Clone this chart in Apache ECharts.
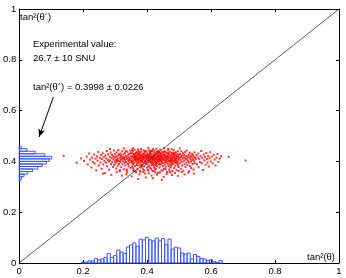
<!DOCTYPE html>
<html><head><meta charset="utf-8">
<script src="https://cdn.jsdelivr.net/npm/echarts@6/dist/echarts.min.js"></script>
<style>html,body{margin:0;padding:0;background:#fff}#c{width:346px;height:278px}</style>
</head><body><div id="c"></div><script>
// ---- data ----
const xTickValues = [0, 0.2, 0.4, 0.6, 0.8, 1];
const yTickValues = [0, 0.2, 0.4, 0.6, 0.8, 1];
const binWidth = 0.01;
// projection of tan^2(theta) (bottom histogram)
const histXCenters = [0.20,0.21,0.22,0.23,0.24,0.25,0.26,0.27,0.28,0.29,0.30,0.31,0.32,0.33,0.34,0.35,0.36,0.37,0.38,0.39,0.40,0.41,0.42,0.43,0.44,0.45,0.46,0.47,0.48,0.49,0.50,0.51,0.52,0.53,0.54,0.55,0.56,0.57,0.58,0.59,0.60,0.61,0.62,0.63];
const histXHeights = [0.004,0.003,0.008,0.008,0.018,0.012,0.016,0.022,0.038,0.022,0.029,0.051,0.043,0.038,0.063,0.071,0.079,0.066,0.094,0.091,0.101,0.091,0.087,0.098,0.087,0.096,0.072,0.094,0.055,0.062,0.059,0.039,0.035,0.039,0.016,0.033,0.026,0.018,0.016,0.009,0.013,0.005,0.002,0.010];
// projection of tan^2(theta') (left histogram)
const histYCenters = [0.325,0.335,0.345,0.355,0.365,0.375,0.385,0.395,0.405,0.415,0.425,0.435,0.445,0.455];
const histYLengths = [0.003,0.007,0.015,0.027,0.042,0.058,0.072,0.085,0.094,0.102,0.080,0.050,0.024,0.006];
// scatter cloud (thousandths): [tan^2(theta), tan^2(theta')]
const cloudPoints = [
[203,402],[211,419],[214,388],[219,431],[222,407],[226,376],[228,415],[231,398],[234,427],[236,392],[239,411],[241,365],[243,420],[245,403],[247,437],[249,384],[252,414],[254,396],[256,425],[258,371],[259,409],[261,432],[263,388],[264,417],[266,401],[268,354],[269,423],[271,395],[272,412],[274,441],[275,381],[277,406],[278,428],[280,399],[281,367],[283,418],[284,404],[286,435],[287,389],[289,413],[290,426],[291,397],[293,378],[294,420],[295,408],[296,443],[297,386],[298,415],[299,401],[300,429],
[301,393],[302,418],[303,372],[304,407],[305,436],[306,399],[307,421],[308,383],[309,411],[310,445],[311,402],[312,390],[313,426],[314,361],[315,414],[316,397],[317,431],[318,405],[319,377],[320,419],[321,409],[322,440],[323,388],[324,416],[325,400],[326,427],[327,369],[328,412],[329,395],[330,433],[331,406],[332,384],[333,422],[334,398],[335,349],[336,417],[337,410],[338,438],[339,391],[340,424],[341,403],[342,380],[343,415],[344,429],[345,396],[346,408],[347,442],[348,374],[349,420],[350,401],[318,423],[326,411],[333,441],[341,389],[307,404],[312,428],[329,415],[336,363],[344,406],[348,432],
[351,412],[352,396],[352,433],[353,379],[354,418],[355,405],[355,441],[356,388],[357,424],[357,401],[358,366],[359,415],[359,430],[360,393],[361,409],[361,446],[362,382],[363,420],[363,403],[364,428],[365,357],[365,411],[366,398],[367,437],[367,416],[368,386],[369,423],[369,406],[370,371],[371,431],[371,413],[372,395],[373,419],[373,442],[374,400],[375,384],[375,426],[376,409],[377,363],[377,417],[378,434],[379,392],[379,404],[380,421],[381,376],[381,411],[382,439],[383,398],[383,425],[384,387],[385,414],[385,403],[386,430],[387,369],[387,418],[388,408],[389,444],[389,394],[390,422],[391,381],[391,412],[392,436],[393,399],[393,417],[394,352],[395,427],[395,405],[396,389],[397,420],[397,440],[398,410],[399,375],[399,425],[354,392],[358,427],[362,410],[366,421],[370,404],[374,437],[378,413],[382,385],[386,407],[390,429],[394,400],[398,418],[353,446],[357,373],[361,419],[365,433],[369,391],[373,408],[377,426],[381,401],[385,380],[389,416],[393,439],[397,396],[360,414],[372,428],[384,419],
[400,413],[401,390],[401,432],[402,405],[403,421],[403,367],[404,410],[405,444],[405,397],[406,418],[407,383],[407,426],[408,402],[409,415],[409,437],[410,374],[411,408],[411,423],[412,394],[413,431],[413,411],[414,386],[415,419],[415,400],[416,441],[417,362],[417,416],[418,405],[419,428],[419,391],[420,412],[421,435],[421,379],[422,420],[423,398],[423,443],[424,409],[425,385],[425,425],[426,414],[427,370],[427,403],[428,432],[429,418],[429,392],[430,409],[431,439],[431,381],[432,421],[433,400],[433,416],[434,355],[435,427],[435,406],[436,389],[437,419],[437,434],[438,397],[439,412],[439,376],[440,424],[441,404],[441,446],[442,388],[443,415],[443,429],[444,399],[445,365],[445,420],[446,410],[447,437],[447,393],[448,417],[449,382],[449,426],[402,427],[406,401],[410,438],[414,417],[418,387],[422,406],[426,430],[430,395],[434,418],[438,410],[442,433],[446,401],[404,379],[408,424],[412,442],[416,398],[420,421],[424,373],[428,410],[432,437],[436,403],[440,389],[444,422],[448,408],[403,415],[411,399],[419,419],[427,388],[435,441],[443,407],[409,430],[417,409],[425,397],[433,426],[441,415],
[450,411],[451,394],[451,430],[452,405],[453,419],[453,371],[454,408],[455,440],[455,387],[456,416],[457,400],[457,427],[458,379],[459,413],[459,435],[460,396],[461,421],[461,404],[462,358],[463,417],[463,431],[464,392],[465,409],[465,443],[466,384],[467,423],[467,402],[468,415],[469,368],[469,428],[470,399],[471,412],[471,438],[472,389],[473,420],[473,406],[474,376],[475,425],[475,397],[476,414],[477,433],[477,385],[478,408],[479,419],[479,362],[480,401],[481,429],[481,412],[482,391],[483,422],[483,444],[484,403],[485,374],[485,417],[486,396],[487,432],[487,410],[488,383],[489,424],[489,405],[490,436],[491,393],[491,415],[492,366],[493,420],[493,401],[494,428],[495,389],[495,411],[496,440],[497,398],[497,418],[498,378],[499,426],[499,407],[454,424],[460,410],[466,433],[472,402],[478,392],[484,426],[490,411],[496,384],[452,437],[458,399],[464,420],[470,381],[476,405],[482,434],[488,397],
[501,414],[502,392],[503,429],[504,405],[505,371],[506,418],[507,440],[508,398],[509,423],[510,384],[511,410],[512,432],[513,363],[514,416],[515,401],[516,426],[517,389],[518,413],[519,437],[520,378],[521,407],[522,421],[523,395],[524,443],[525,411],[526,386],[527,419],[528,403],[529,356],[530,427],[531,396],[532,415],[533,434],[534,382],[535,409],[536,422],[537,399],[538,374],[539,417],[540,430],[541,405],[542,390],[543,425],[544,411],[545,368],[546,419],[547,401],[548,436],[549,393],[550,414],
[552,408],[554,424],[556,389],[558,416],[560,431],[561,377],[563,410],[565,398],[567,421],[569,441],[571,393],[573,413],[575,366],[577,427],[579,404],[581,418],[583,387],[585,433],[587,409],[589,396],[591,421],[593,380],[595,412],[597,436],[599,400],[602,419],[605,392],[608,426],[611,407],[614,384],[617,415],[620,429],[623,398],[627,411],[631,420],
[262,352],[288,347],[305,359],[321,344],[338,356],[352,341],[364,361],[376,349],[388,358],[396,337],[405,353],[414,344],[422,362],[431,348],[440,357],[452,339],[461,351],[470,360],[478,346],[487,355],[496,343],[508,358],[517,349],[531,361],[546,352],[372,331],[418,334],[446,328],[336,368],[357,362],[379,359],[402,364],[426,357],[449,364],[473,356],[499,362],[413,369],[391,365],[458,369],[315,365],
[284,449],[327,451],[356,452],[381,449],[404,454],[429,450],[453,452],[477,448],[502,451],[371,447],[418,448],[466,449],
[139,422],[655,418],[708,403],[180,395],[193,412]
];
const diagonalLine = [[0, 0], [1, 1]];
const arrowFrom = [0.107, 0.654];
const arrowTo = [0.062, 0.496];
const labelTopLeft = 'tan²(θ´)';
const labelBottomRight = 'tan²(θ)';
const noteLines = ['Experimental value:', '26.7 ± 10 SNU', 'tan²(θ´) = 0.3998 ± 0.0226'];

// ---- chart ----
const FONT = '"Liberation Sans", Arial, Helvetica, sans-serif';
const FS = 9.5;
const chart = echarts.init(document.getElementById('c'), null, {renderer: 'canvas'});

const axisCommon = {
  type: 'value', min: 0, max: 1, interval: 0.2,
  axisLine: {show: true, onZero: false, lineStyle: {color: '#000', width: 1}},
  axisTick: {show: true, inside: true, length: 3, lineStyle: {color: '#000'}},
  splitLine: {show: false}
};
const labelStyle = {color: '#000', fontFamily: FONT, fontSize: FS, margin: 3};

const histBottom = histXCenters.map((c, i) => [c, histXHeights[i]]);
const histLeft = histYCenters.map((c, i) => [histYLengths[i], c]);
const cloud = cloudPoints.map(p => [p[0] / 1000, p[1] / 1000]);

const histStyle = {fill: 'rgba(255,255,255,0)', stroke: '#3a55ff', lineWidth: 1};

chart.setOption({
  animation: false,
  backgroundColor: '#fff',
  grid: {left: 17, right: 7, top: 9, bottom: 15, containLabel: false},
  xAxis: [
    Object.assign({}, axisCommon, {position: 'bottom', axisLabel: labelStyle}),
    Object.assign({}, axisCommon, {position: 'top', axisLabel: {show: false}})
  ],
  yAxis: [
    Object.assign({}, axisCommon, {position: 'left', axisLabel: labelStyle}),
    Object.assign({}, axisCommon, {position: 'right', axisLabel: {show: false}})
  ],
  series: [
    {
      type: 'custom', xAxisIndex: 0, yAxisIndex: 0, data: histBottom, silent: true,
      renderItem: function (params, api) {
        const c = api.value(0), h = api.value(1);
        const p0 = api.coord([c - binWidth / 2, 0]);
        const p1 = api.coord([c + binWidth / 2, h]);
        return {type: 'rect', shape: {x: p0[0], y: p1[1], width: p1[0] - p0[0], height: p0[1] - p1[1]}, style: histStyle};
      }
    },
    {
      type: 'custom', xAxisIndex: 0, yAxisIndex: 0, data: histLeft, silent: true,
      renderItem: function (params, api) {
        const len = api.value(0), c = api.value(1);
        const p0 = api.coord([0, c - binWidth / 2]);
        const p1 = api.coord([len, c + binWidth / 2]);
        return {type: 'rect', shape: {x: p0[0], y: p1[1], width: p1[0] - p0[0], height: p0[1] - p1[1]}, style: histStyle};
      }
    },
    {
      type: 'line', data: diagonalLine, symbol: 'none', silent: true,
      lineStyle: {color: '#333', width: 0.8},
      markLine: {
        silent: true, symbol: ['none', 'arrow'], symbolSize: [5, 8],
        label: {show: false},
        lineStyle: {color: '#000', width: 1, type: 'solid'},
        data: [[{coord: arrowFrom}, {coord: arrowTo}]]
      }
    },
    {
      type: 'scatter', data: cloud, symbol: 'rect', symbolSize: 2, silent: true,
      itemStyle: {color: '#ff0000'}
    }
  ],
  graphic: [
    {type: 'text', x: 20, y: 17.5, silent: true, style: {text: labelTopLeft, font: FS + 'px ' + FONT, fill: '#000', align: 'left', verticalAlign: 'middle'}},
    {type: 'text', x: 33, y: 44.5, silent: true, style: {text: noteLines[0], font: FS + 'px ' + FONT, fill: '#000', align: 'left', verticalAlign: 'middle'}},
    {type: 'text', x: 33, y: 58, silent: true, style: {text: noteLines[1], font: FS + 'px ' + FONT, fill: '#000', align: 'left', verticalAlign: 'middle'}},
    {type: 'text', x: 33, y: 87, silent: true, style: {text: noteLines[2], font: FS + 'px ' + FONT, fill: '#000', align: 'left', verticalAlign: 'middle'}},
    {type: 'text', x: 335, y: 257.5, silent: true, style: {text: labelBottomRight, font: FS + 'px ' + FONT, fill: '#000', align: 'right', verticalAlign: 'middle'}}
  ]
});
</script></body></html>
